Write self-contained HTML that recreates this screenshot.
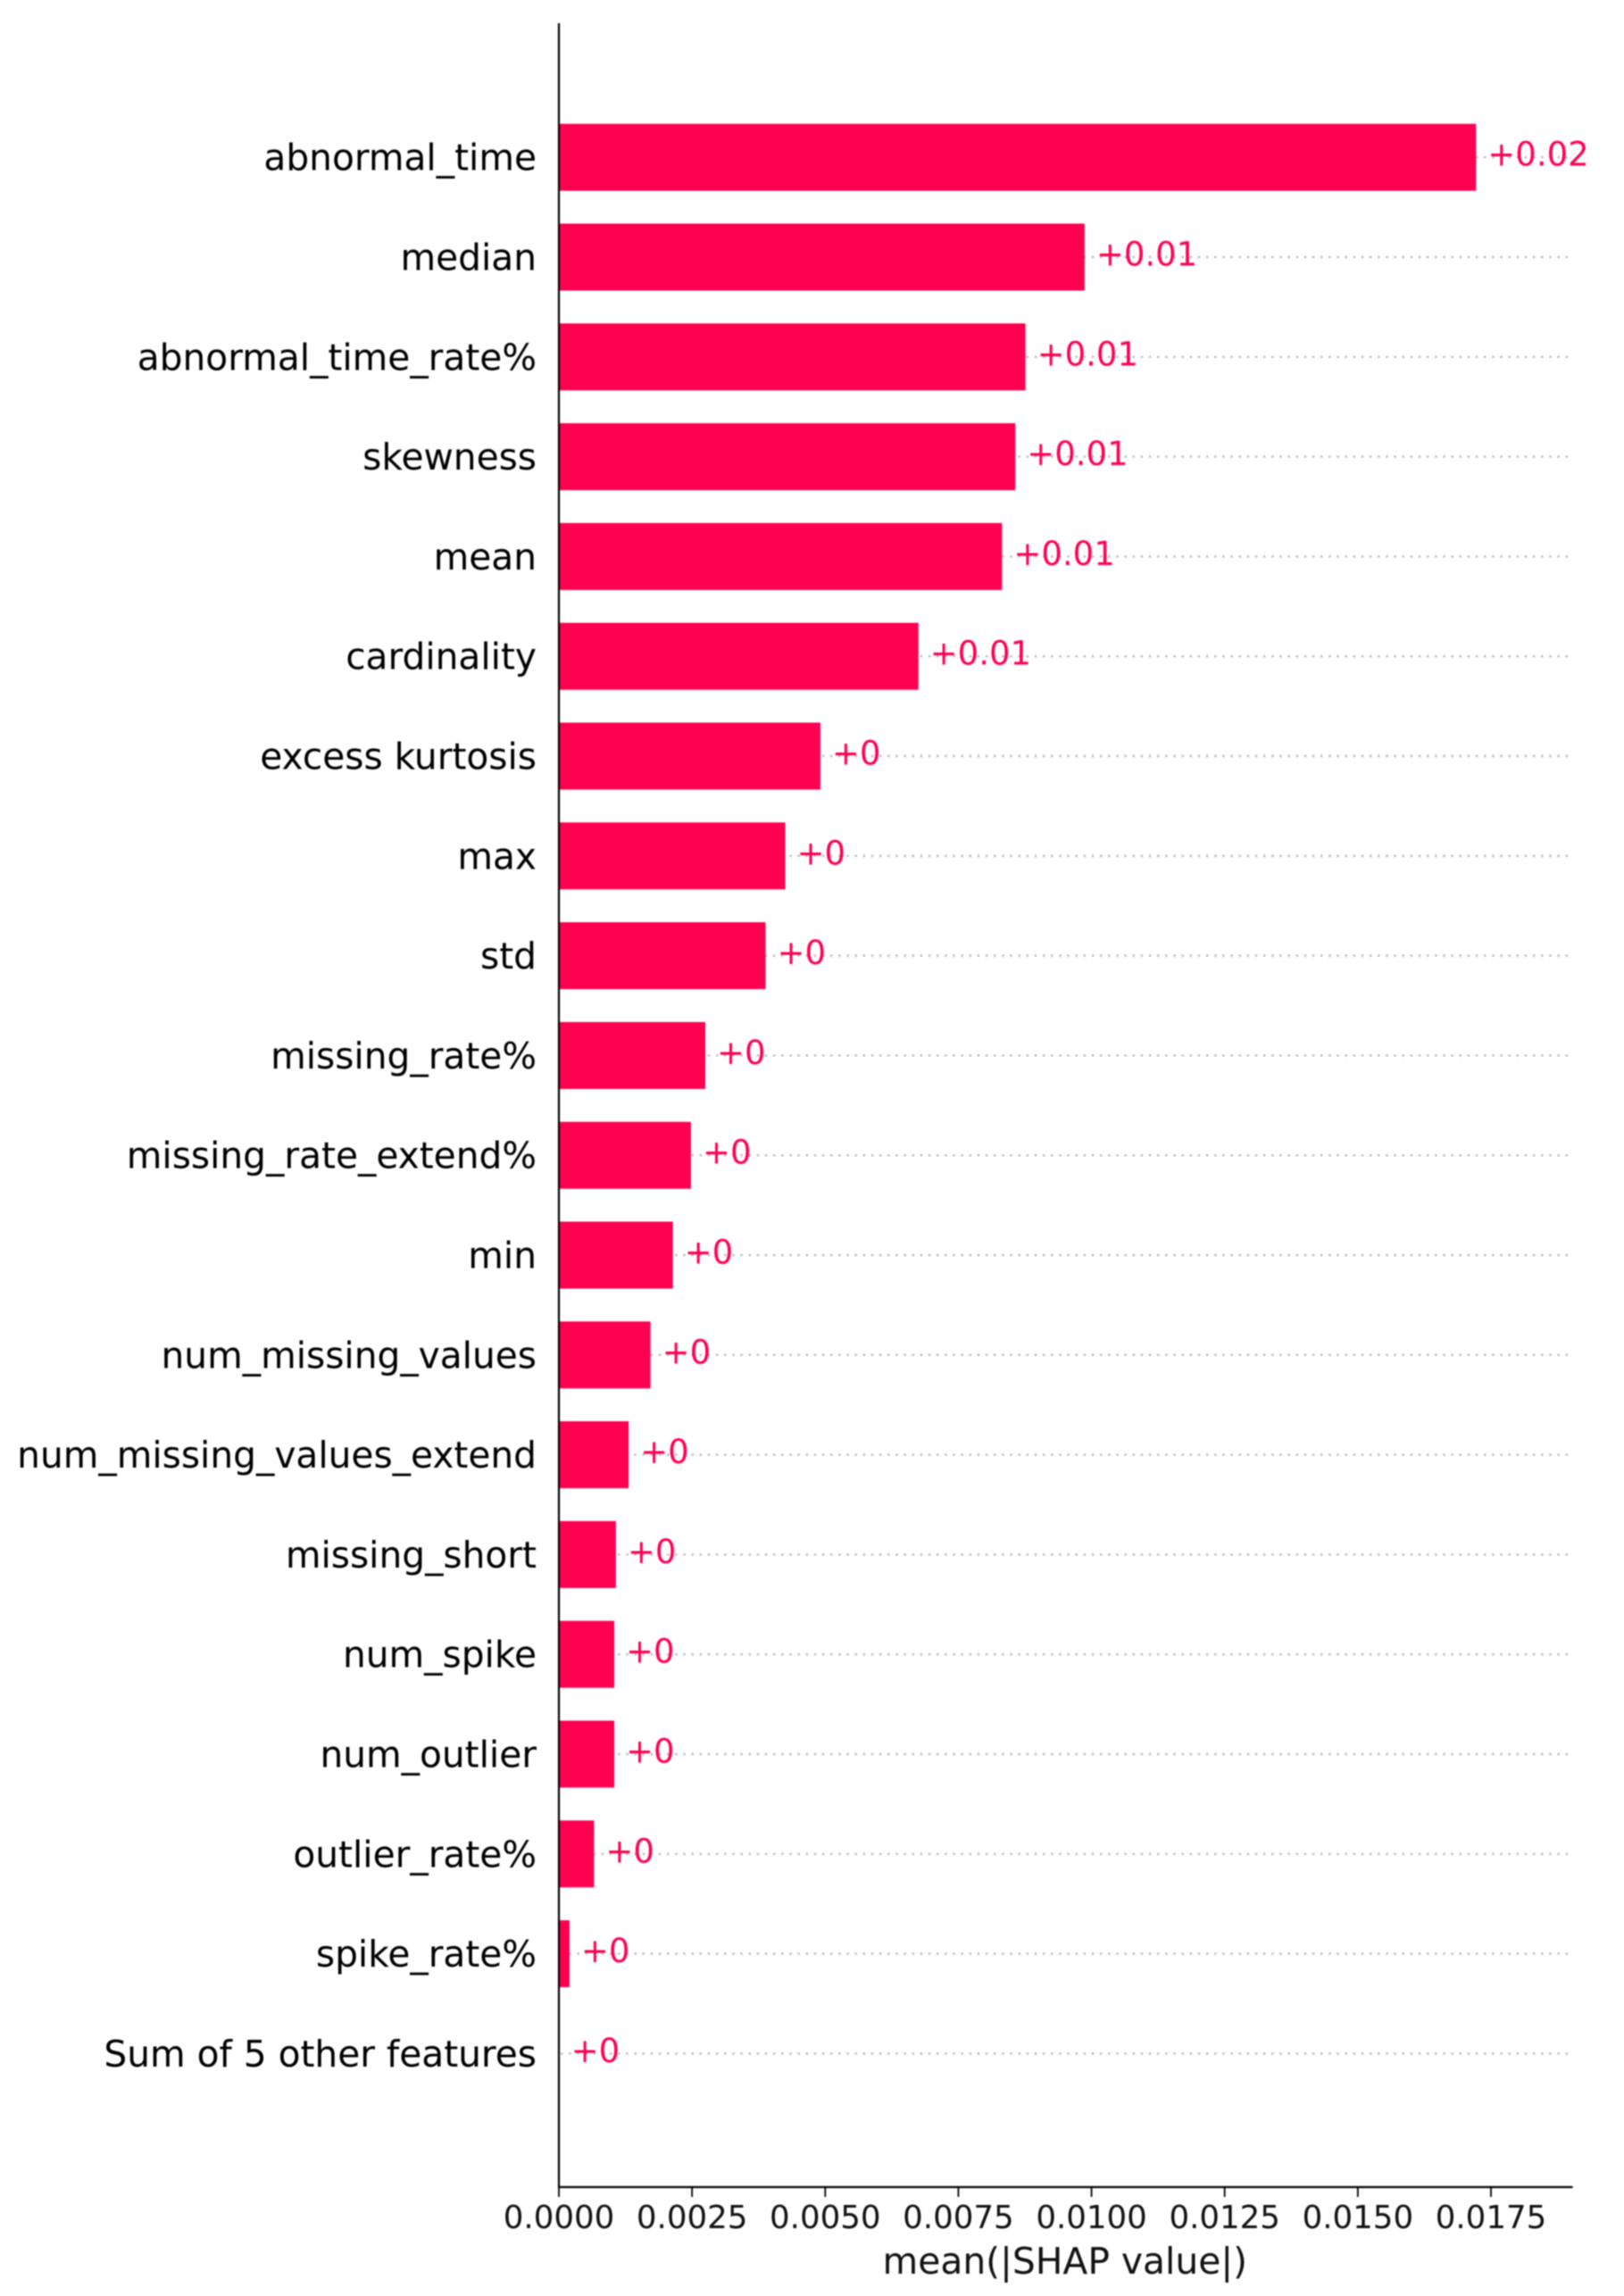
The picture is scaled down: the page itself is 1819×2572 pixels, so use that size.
<!DOCTYPE html>
<html>
<head>
<meta charset="utf-8">
<title>SHAP bar chart</title>
<style>
html,body{margin:0;padding:0;background:#fff;}
body{width:1819px;height:2572px;overflow:hidden;}
svg{display:block;filter:blur(0.7px);}
text{font-family:"DejaVu Sans","Liberation Sans",sans-serif;}
</style>
</head>
<body>
<svg id="chart" xmlns="http://www.w3.org/2000/svg" width="1819" height="2572" viewBox="0 0 1819 2572"></svg>
<script>
const features = ["abnormal_time","median","abnormal_time_rate%","skewness","mean","cardinality","excess kurtosis","max","std","missing_rate%","missing_rate_extend%","min","num_missing_values","num_missing_values_extend","missing_short","num_spike","num_outlier","outlier_rate%","spike_rate%","Sum of 5 other features"];
const shapValues = [0.01722,0.00987,0.00876,0.00857,0.00832,0.00675,0.00491,0.00425,0.00388,0.00275,0.00248,0.00214,0.00172,0.00131,0.00107,0.00104,0.00104,0.00066,0.00020,0.00001];
const xTicks = [0,0.0025,0.005,0.0075,0.01,0.0125,0.015,0.0175];
const xTickLabels = ["0.0000","0.0025","0.0050","0.0075","0.0100","0.0125","0.0150","0.0175"];
const xAxisTitle = "mean(|SHAP value|)";

const NS = "http://www.w3.org/2000/svg";
const svg = document.getElementById("chart");
const plotLeft = 626, plotRight = 1761.5, plotTop = 26, plotBottom = 2450;
const pxPerUnit = 59657, rowStart = 176.2, rowStep = 111.8, barHeight = 75;
const red = "#ff0051";
function xScale(v){ return plotLeft + v * pxPerUnit; }
function yScale(i){ return rowStart + i * rowStep; }
function mk(tag, attrs, text){
  const el = document.createElementNS(NS, tag);
  for (const k in attrs) el.setAttribute(k, attrs[k]);
  if (text !== undefined) el.textContent = text;
  svg.appendChild(el);
  return el;
}
features.forEach(function(name, i){
  const y = yScale(i);
  const guide = mk("line", {x1: plotLeft + 2, x2: 1760, y1: y, y2: y, stroke: "#bdbdbd", "stroke-width": 2.4, "stroke-dasharray": "2.6 6.55"});
  
  
});
features.forEach(function(name, i){
  const y = yScale(i), v = shapValues[i];
  const bar = mk("rect", {x: xScale(0), y: y - barHeight / 2, width: xScale(v) - xScale(0), height: barHeight, fill: red});
  
  
  const label = mk("text", {x: 601, y: y + 14.5, "text-anchor": "end", "font-size": 40.7, fill: "#000"}, name);
  
  
  const val = mk("text", {x: xScale(v) + 13, y: y + 9.5, "font-size": 37, fill: red}, "+" + Number(v.toFixed(2)));
  
  
});
const ySpine = mk("line", {x1: plotLeft, x2: plotLeft, y1: plotTop, y2: plotBottom + 1, stroke: "#000", "stroke-width": 2.2});


const xSpine = mk("line", {x1: plotLeft - 1, x2: plotRight, y1: plotBottom, y2: plotBottom, stroke: "#000", "stroke-width": 2.2});


xTicks.forEach(function(t, i){
  const x = xScale(t);
  const tick = mk("line", {x1: x, x2: x, y1: plotBottom, y2: plotBottom + 11, stroke: "#000", "stroke-width": 1.8});
  
  
  const tl = mk("text", {x: x, y: 2496, "text-anchor": "middle", "font-size": 35.6, fill: "#111"}, xTickLabels[i]);
  
  
});
const xTitle = mk("text", {x: (plotLeft + plotRight) / 2 - 1, y: 2547, "text-anchor": "middle", "font-size": 40.8, fill: "#111"}, xAxisTitle);


</script>
</body>
</html>
